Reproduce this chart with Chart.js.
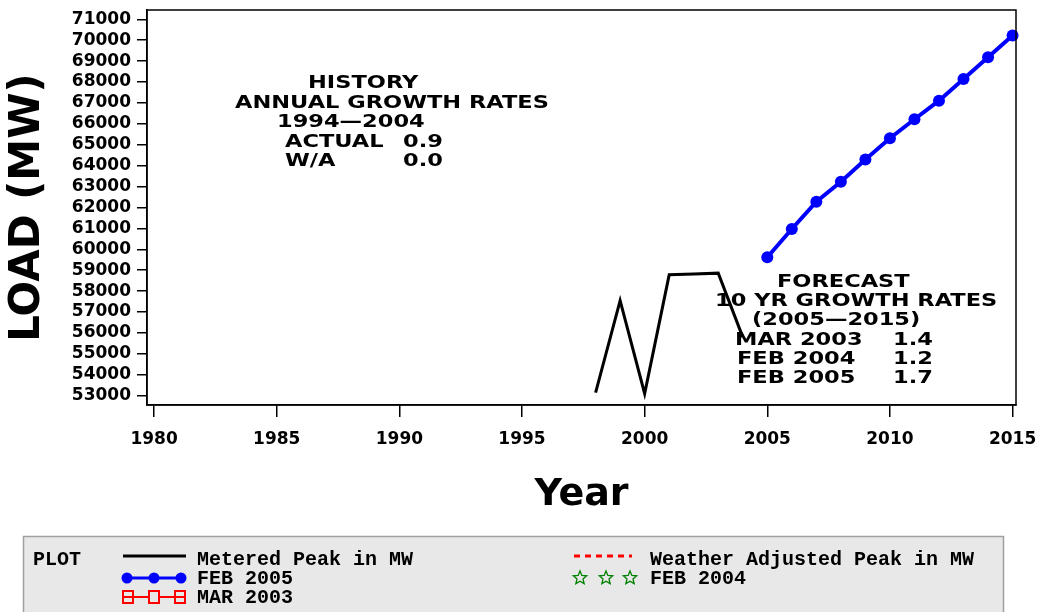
<!DOCTYPE html>
<html>
<head>
<meta charset="utf-8">
<title>Load forecast</title>
<script src="https://cdn.jsdelivr.net/npm/chart.js@4"></script>
<style>
  html, body { margin: 0; padding: 0; background: #fff; }
  #wrap { width: 1039px; height: 612px; position: relative; }
</style>
</head>
<body>
<div id="wrap"><canvas id="myChart" width="1039" height="612"></canvas></div>
<script>
// data
var meteredYears = [1998, 1999, 2000, 2001, 2002, 2003, 2004];
var meteredPeak = [53150, 57550, 53100, 58780, 58820, 58860, 55800];

var forecastYears = [2005, 2006, 2007, 2008, 2009, 2010, 2011, 2012, 2013, 2014, 2015];
var feb2005 = [59620, 60970, 62280, 63230, 64300, 65310, 66220, 67110, 68150, 69180, 70220];

var xTicks = [1980, 1985, 1990, 1995, 2000, 2005, 2010, 2015];
var yTicks = [53000, 54000, 55000, 56000, 57000, 58000, 59000, 60000, 61000, 62000,
              63000, 64000, 65000, 66000, 67000, 68000, 69000, 70000, 71000];

var seriesNames = ["Metered Peak in MW", "FEB 2005", "MAR 2003", "Weather Adjusted Peak in MW", "FEB 2004"];

var historyText = [
  ["HISTORY", 308, 83],
  ["ANNUAL GROWTH RATES", 235, 103],
  ["1994\u20142004", 277, 122],
  ["ACTUAL", 285, 142], ["0.9", 403, 142],
  ["W/A", 285, 161], ["0.0", 403, 161]
];
var forecastText = [
  ["FORECAST", 777, 282],
  ["10 YR GROWTH RATES", 715, 301],
  ["(2005\u20142015)", 752, 320],
  ["MAR 2003", 735, 340], ["1.4", 893, 340],
  ["FEB 2004", 737, 359], ["1.2", 893, 359],
  ["FEB 2005", 737, 378], ["1.7", 893, 378]
];

function toPoints(xs, ys) {
  return xs.map(function (x, i) { return { x: x, y: ys[i] }; });
}

function wideText(ctx, text, x, y) {
  ctx.save();
  ctx.translate(x, y);
  ctx.scale(1.25, 1);
  ctx.fillText(text, 0, 0);
  ctx.restore();
}

function star(ctx, cx, cy, r) {
  ctx.beginPath();
  for (var i = 0; i < 10; i++) {
    var rad = i % 2 === 0 ? r : r * 0.45;
    var a = -Math.PI / 2 + i * Math.PI / 5;
    var px = cx + rad * Math.cos(a), py = cy + rad * Math.sin(a);
    if (i === 0) ctx.moveTo(px, py); else ctx.lineTo(px, py);
  }
  ctx.closePath();
  ctx.stroke();
}

var extras = {
  id: "extras",
  beforeDraw: function (chart) {
    var ctx = chart.ctx;
    ctx.save();
    ctx.fillStyle = "#fff";
    ctx.fillRect(0, 0, chart.width, chart.height);
    ctx.restore();
  },
  afterDraw: function (chart) {
    var ctx = chart.ctx;
    var a = chart.chartArea;
    ctx.save();
    // frame
    ctx.strokeStyle = "#000";
    ctx.lineWidth = 1.5;
    ctx.strokeRect(a.left, a.top, a.right - a.left, a.bottom - a.top);

    // annotation blocks
    ctx.fillStyle = "#000";
    ctx.font = "bold 18px 'DejaVu Sans'";
    ctx.textBaseline = "middle";
    ctx.textAlign = "left";
    historyText.concat(forecastText).forEach(function (t) { wideText(ctx, t[0], t[1], t[2]); });

    // legend box
    ctx.fillStyle = "#e8e8e8";
    ctx.fillRect(23, 536, 980, 80);
    ctx.strokeStyle = "#a0a0a0";
    ctx.lineWidth = 1.5;
    ctx.beginPath();
    ctx.moveTo(23.5, 612); ctx.lineTo(23.5, 536.5); ctx.lineTo(1003.5, 536.5); ctx.lineTo(1003.5, 612);
    ctx.stroke();

    ctx.fillStyle = "#000";
    ctx.font = "bold 20px 'Liberation Mono'";
    ctx.textBaseline = "middle";
    ctx.fillText("PLOT", 33, 560);
    ctx.fillText(seriesNames[0], 197, 560);
    ctx.fillText(seriesNames[1], 197, 579);
    ctx.fillText(seriesNames[2], 197, 598);
    ctx.fillText(seriesNames[3], 650, 560);
    ctx.fillText(seriesNames[4], 650, 579);

    // metered symbol
    ctx.strokeStyle = "#000";
    ctx.lineWidth = 3;
    ctx.beginPath(); ctx.moveTo(123, 556); ctx.lineTo(186, 556); ctx.stroke();

    // FEB 2005 symbol
    ctx.strokeStyle = "#0000ff";
    ctx.fillStyle = "#0000ff";
    ctx.lineWidth = 3;
    ctx.beginPath(); ctx.moveTo(125, 578); ctx.lineTo(183, 578); ctx.stroke();
    [127, 154, 181].forEach(function (x) {
      ctx.beginPath(); ctx.arc(x, 578, 5.5, 0, Math.PI * 2); ctx.fill();
    });

    // MAR 2003 symbol
    ctx.strokeStyle = "#ff0000";
    ctx.lineWidth = 2;
    ctx.beginPath();
    ctx.moveTo(123, 597); ctx.lineTo(186, 597);
    ctx.stroke();
    ctx.fillStyle = "#e8e8e8";
    [128, 154, 180].forEach(function (x) {
      ctx.fillRect(x - 5, 591, 10, 12);
      ctx.strokeRect(x - 5, 591, 10, 12);
    });
    ctx.beginPath();
    ctx.moveTo(123, 597); ctx.lineTo(133, 597);
    ctx.moveTo(175, 597); ctx.lineTo(185, 597);
    ctx.stroke();

    // weather adjusted symbol
    ctx.strokeStyle = "#ff0000";
    ctx.lineWidth = 3;
    ctx.setLineDash([6, 5]);
    ctx.beginPath(); ctx.moveTo(574, 556); ctx.lineTo(632, 556); ctx.stroke();
    ctx.setLineDash([]);

    // FEB 2004 symbol
    ctx.strokeStyle = "#008000";
    ctx.lineWidth = 1.3;
    [580, 606, 630].forEach(function (x) { star(ctx, x, 578, 7); });

    ctx.restore();
  }
};

new Chart("myChart", {
  type: "line",
  data: {
    datasets: [{
      label: seriesNames[0],
      data: toPoints(meteredYears, meteredPeak),
      borderColor: "#000",
      borderWidth: 3,
      pointRadius: 0,
      tension: 0
    }, {
      label: seriesNames[1],
      data: toPoints(forecastYears, feb2005),
      borderColor: "#0000ff",
      backgroundColor: "#0000ff",
      borderWidth: 4,
      pointRadius: 6,
      pointBorderWidth: 0,
      clip: false,
      tension: 0
    }]
  },
  options: {
    responsive: false,
    animation: false,
    layout: { padding: { left: 0, top: 10, right: 23, bottom: 92 } },
    plugins: {
      legend: { display: false },
      tooltip: { enabled: false }
    },
    scales: {
      x: {
        type: "linear",
        min: 1979.71,
        max: 2015.14,
        afterFit: function (s) { s.height = 115; s.paddingLeft = 0; s.paddingRight = 0; },
        afterBuildTicks: function (s) { s.ticks = xTicks.map(function (v) { return { value: v }; }); },
        grid: { drawOnChartArea: false, drawTicks: true, tickLength: 12, color: "#000", lineWidth: 1.5 },
        border: { display: true, color: "#000", width: 1.5 },
        ticks: {
          color: "#000",
          padding: 12,
          maxRotation: 0,
          autoSkip: false,
          font: { family: "DejaVu Sans", size: 17, weight: "bold" },
          callback: function (v) { return String(v); }
        },
        title: {
          display: true,
          text: "Year",
          color: "#000",
          padding: { top: 0, bottom: 2 },
          font: { family: "DejaVu Sans", size: 38, weight: "bold" }
        }
      },
      y: {
        min: 52555,
        max: 71445,
        afterFit: function (s) { s.width = 147; s.paddingTop = 0; s.paddingBottom = 0; },
        afterBuildTicks: function (s) { s.ticks = yTicks.map(function (v) { return { value: v }; }); },
        grid: { drawOnChartArea: false, drawTicks: true, tickLength: 10, color: "#000", lineWidth: 1.5 },
        border: { display: true, color: "#000", width: 1.5 },
        ticks: {
          color: "#000",
          padding: 6,
          autoSkip: false,
          font: { family: "DejaVu Sans", size: 17, weight: "bold" },
          callback: function (v) { return String(v); }
        },
        title: {
          display: true,
          text: "LOAD (MW)",
          color: "#000",
          padding: { top: 3, bottom: 0 },
          font: { family: "DejaVu Sans", size: 42, weight: "bold" }
        }
      }
    }
  },
  plugins: [extras]
});
</script>
</body>
</html>
